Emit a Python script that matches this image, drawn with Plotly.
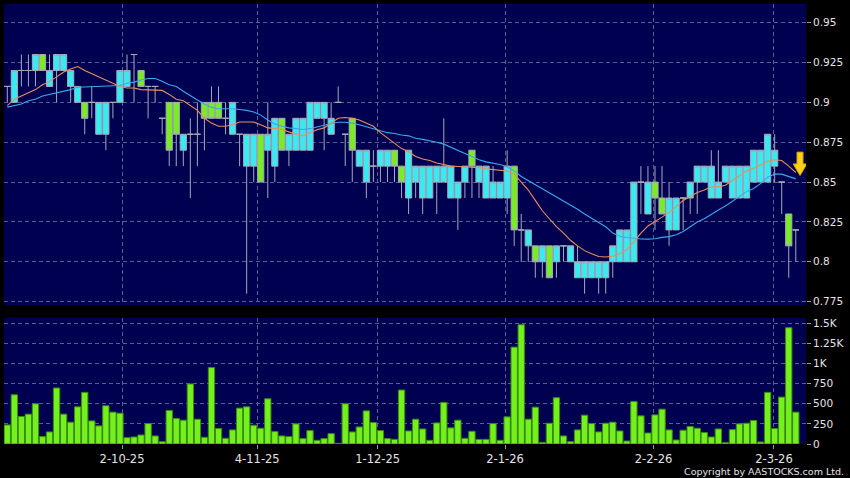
import plotly.graph_objects as go

# ---------------- data ----------------
idx = list(range(1, 114))

opens = [0.91, 0.90, 0.92, 0.92, 0.92, 0.93, 0.91, 0.92, 0.92, 0.91,
         0.90, 0.90, 0.90, 0.88, 0.88, 0.90, 0.90, 0.91, 0.93, 0.92,
         0.91, 0.91, 0.89, 0.90, 0.90, 0.87, 0.88, 0.88, 0.90, 0.90,
         0.90, 0.89, 0.88, 0.88, 0.86, 0.86, 0.88, 0.87, 0.86, 0.89,
         0.87, 0.87, 0.87, 0.87, 0.89, 0.89, 0.88, 0.90, 0.88, 0.89,
         0.86, 0.85, 0.86, 0.86, 0.86, 0.87, 0.86, 0.84, 0.85, 0.84,
         0.84, 0.85, 0.85, 0.84, 0.84, 0.85, 0.87, 0.85, 0.84, 0.84,
         0.84, 0.84, 0.86, 0.82, 0.81, 0.81, 0.80, 0.81, 0.80, 0.81,
         0.80, 0.79, 0.79, 0.79, 0.79, 0.79, 0.80, 0.80, 0.80, 0.80,
         0.85, 0.83, 0.85, 0.84, 0.82, 0.82, 0.84, 0.84, 0.85, 0.85,
         0.84, 0.84, 0.85, 0.84, 0.84, 0.84, 0.85, 0.85, 0.85, 0.86,
         0.85, 0.83, 0.82]
highs = [0.91, 0.92, 0.93, 0.93, 0.93, 0.93, 0.93, 0.93, 0.93, 0.92,
         0.91, 0.90, 0.91, 0.90, 0.90, 0.90, 0.92, 0.93, 0.93, 0.92,
         0.91, 0.91, 0.89, 0.90, 0.90, 0.88, 0.89, 0.90, 0.90, 0.91,
         0.91, 0.90, 0.90, 0.88, 0.88, 0.88, 0.88, 0.90, 0.89, 0.89,
         0.88, 0.89, 0.89, 0.90, 0.90, 0.90, 0.90, 0.91, 0.88, 0.89,
         0.87, 0.87, 0.87, 0.87, 0.87, 0.87, 0.86, 0.87, 0.86, 0.86,
         0.86, 0.86, 0.89, 0.86, 0.85, 0.86, 0.87, 0.86, 0.86, 0.86,
         0.85, 0.87, 0.86, 0.83, 0.82, 0.81, 0.81, 0.81, 0.81, 0.81,
         0.81, 0.81, 0.80, 0.80, 0.80, 0.80, 0.81, 0.82, 0.82, 0.85,
         0.86, 0.86, 0.86, 0.86, 0.85, 0.84, 0.84, 0.85, 0.86, 0.86,
         0.87, 0.87, 0.86, 0.86, 0.86, 0.86, 0.87, 0.87, 0.88, 0.88,
         0.85, 0.83, 0.82]
lows = [0.90, 0.90, 0.91, 0.91, 0.91, 0.92, 0.91, 0.90, 0.92, 0.90,
        0.90, 0.88, 0.89, 0.88, 0.87, 0.89, 0.90, 0.91, 0.90, 0.91,
        0.89, 0.90, 0.88, 0.86, 0.86, 0.86, 0.84, 0.86, 0.87, 0.89,
        0.89, 0.88, 0.88, 0.86, 0.78, 0.85, 0.85, 0.84, 0.85, 0.87,
        0.86, 0.87, 0.87, 0.87, 0.89, 0.87, 0.88, 0.90, 0.86, 0.85,
        0.86, 0.84, 0.85, 0.85, 0.85, 0.85, 0.84, 0.83, 0.84, 0.83,
        0.84, 0.83, 0.85, 0.84, 0.82, 0.84, 0.84, 0.84, 0.84, 0.84,
        0.84, 0.83, 0.81, 0.80, 0.80, 0.79, 0.79, 0.79, 0.79, 0.80,
        0.80, 0.79, 0.78, 0.79, 0.78, 0.78, 0.79, 0.80, 0.80, 0.80,
        0.83, 0.83, 0.82, 0.83, 0.81, 0.82, 0.82, 0.83, 0.83, 0.85,
        0.84, 0.84, 0.85, 0.84, 0.84, 0.84, 0.85, 0.85, 0.85, 0.85,
        0.83, 0.79, 0.80]
closes = [0.91, 0.92, 0.92, 0.92, 0.93, 0.92, 0.92, 0.93, 0.93, 0.92,
          0.91, 0.89, 0.90, 0.90, 0.90, 0.90, 0.92, 0.92, 0.93, 0.91,
          0.91, 0.91, 0.89, 0.87, 0.88, 0.88, 0.88, 0.88, 0.89, 0.89,
          0.89, 0.89, 0.90, 0.88, 0.88, 0.88, 0.85, 0.88, 0.89, 0.87,
          0.88, 0.89, 0.89, 0.90, 0.90, 0.90, 0.89, 0.90, 0.88, 0.87,
          0.87, 0.87, 0.86, 0.87, 0.87, 0.86, 0.85, 0.87, 0.86, 0.86,
          0.86, 0.86, 0.86, 0.86, 0.85, 0.86, 0.86, 0.86, 0.86, 0.85,
          0.85, 0.86, 0.82, 0.82, 0.82, 0.80, 0.81, 0.79, 0.81, 0.81,
          0.81, 0.80, 0.80, 0.80, 0.80, 0.80, 0.81, 0.82, 0.82, 0.85,
          0.85, 0.85, 0.84, 0.83, 0.84, 0.84, 0.84, 0.85, 0.86, 0.86,
          0.86, 0.85, 0.86, 0.86, 0.86, 0.86, 0.87, 0.87, 0.88, 0.87,
          0.85, 0.81, 0.82]
volume = [237, 612, 342, 371, 500, 92, 150, 696, 371, 271,
          462, 642, 287, 225, 475, 396, 383, 79, 87, 112,
          254, 100, 29, 417, 317, 296, 746, 308, 83, 950,
          192, 71, 175, 446, 462, 233, 196, 562, 154, 100,
          92, 250, 67, 167, 46, 67, 129, 8, 500, 150,
          212, 412, 267, 167, 67, 58, 671, 162, 308, 187,
          46, 262, 517, 200, 296, 71, 158, 58, 58, 254,
          46, 337, 1204, 1483, 308, 458, 21, 258, 575, 100,
          29, 175, 358, 254, 150, 258, 271, 162, 37, 529,
          350, 137, 362, 433, 175, 50, 171, 217, 196, 142,
          87, 187, 17, 179, 250, 258, 292, 25, 642, 192,
          583, 1446, 396]
ma_short = [0.898, 0.902, 0.904, 0.906, 0.908, 0.911, 0.913, 0.916, 0.919, 0.921,
            0.9225, 0.920, 0.918, 0.916, 0.914, 0.912, 0.910, 0.909, 0.909, 0.908,
            0.9078, 0.9075, 0.9075, 0.905, 0.902, 0.901, 0.898, 0.895, 0.890, 0.887,
            0.885, 0.885, 0.886, 0.8877, 0.8877, 0.8877, 0.886, 0.884, 0.8837, 0.883,
            0.8815, 0.880, 0.879, 0.881, 0.8828, 0.884, 0.887, 0.890, 0.8905, 0.890,
            0.889, 0.887, 0.885, 0.881, 0.8775, 0.874, 0.871, 0.869, 0.866, 0.8645,
            0.8635, 0.862, 0.861, 0.860, 0.8598, 0.8596, 0.8596, 0.859, 0.8583, 0.858,
            0.8575, 0.857, 0.855, 0.850, 0.845, 0.8385, 0.832, 0.827, 0.822, 0.818,
            0.8135, 0.810, 0.807, 0.805, 0.8033, 0.803, 0.8035, 0.805, 0.8075, 0.8125,
            0.818, 0.8225, 0.825, 0.828, 0.831, 0.835, 0.8385, 0.841, 0.8435, 0.845,
            0.847, 0.847, 0.848, 0.851, 0.854, 0.857, 0.8585, 0.861, 0.863, 0.864,
            0.8635, 0.860, 0.856]
ma_long = [0.897, 0.898, 0.899, 0.901, 0.902, 0.904, 0.905, 0.906, 0.907, 0.908,
           0.9095, 0.9097, 0.910, 0.910, 0.9103, 0.9106, 0.9106, 0.912, 0.9127, 0.914,
           0.915, 0.915, 0.9133, 0.911, 0.910, 0.907, 0.904, 0.9015, 0.899, 0.897,
           0.896, 0.896, 0.896, 0.8955, 0.895, 0.894, 0.892, 0.889, 0.8865, 0.885,
           0.884, 0.8835, 0.883, 0.8835, 0.8848, 0.8857, 0.8867, 0.8875, 0.8875, 0.887,
           0.886, 0.8847, 0.8835, 0.882, 0.881, 0.8805, 0.8795, 0.879, 0.8775, 0.8768,
           0.876, 0.875, 0.8738, 0.872, 0.870, 0.868, 0.866, 0.864, 0.8627, 0.862,
           0.861, 0.8595, 0.857, 0.8535, 0.851, 0.848, 0.846, 0.8435, 0.841, 0.8385,
           0.836, 0.833, 0.830, 0.8275, 0.825, 0.822, 0.818, 0.816, 0.8152, 0.8147,
           0.8143, 0.8142, 0.8145, 0.8153, 0.8158, 0.817, 0.819, 0.822, 0.825, 0.827,
           0.830, 0.8325, 0.835, 0.838, 0.841, 0.844, 0.846, 0.849, 0.853, 0.855,
           0.855, 0.8535, 0.852]

date_tick_pos = [17.3, 36.5, 53.6, 71.7, 92.8, 109.9]
date_tick_text = ["2-10-25", "4-11-25", "1-12-25", "2-1-26", "2-2-26", "2-3-26"]
price_ticks = [0.775, 0.8, 0.825, 0.85, 0.875, 0.9, 0.925, 0.95]
price_tick_text = ["0.775", "0.8", "0.825", "0.85", "0.875", "0.9", "0.925", "0.95"]
vol_ticks = [0, 250, 500, 750, 1000, 1250, 1500]
vol_tick_text = ["0", "250", "500", "750", "1K", "1.25K", "1.5K"]

# ---------------- styling ----------------
NAVY = "#000050"
CYAN = "#38EAF2"
GREEN = "#78EE22"
WICK = "#A8A8B8"
GRID = "#5C5C92"
TXT = "#E4E4E4"
FONT = "DejaVu Sans"
DASH = "4px,3px"

XR = [0.531, 114.45]

fig = go.Figure()

fig.add_trace(go.Candlestick(
    x=idx, open=opens, high=highs, low=lows, close=closes,
    increasing=dict(line=dict(color=WICK, width=1), fillcolor=CYAN),
    decreasing=dict(line=dict(color=WICK, width=1), fillcolor=GREEN),
    whiskerwidth=0, xaxis="x", yaxis="y", showlegend=False, hoverinfo="skip"))

fig.add_trace(go.Scatter(x=idx, y=ma_long, mode="lines",
                         line=dict(color="#3DA6F0", width=1.1),
                         xaxis="x", yaxis="y", showlegend=False, hoverinfo="skip"))
fig.add_trace(go.Scatter(x=idx, y=ma_short, mode="lines",
                         line=dict(color="#E98F5C", width=1.1),
                         xaxis="x", yaxis="y", showlegend=False, hoverinfo="skip"))

fig.add_trace(go.Bar(x=idx, y=volume, xaxis="x2", yaxis="y2",
                     marker=dict(color="#74F01C", line=dict(color="#3A8A12", width=1)),
                     showlegend=False, hoverinfo="skip"))

# yellow down arrow marker at the latest bar
ax = idx[-1] + 0.6
fig.add_shape(type="path", xref="x", yref="y",
              path=(f"M {ax-0.43} 0.8688 L {ax+0.43} 0.8688 L {ax+0.43} 0.8614 "
                    f"L {ax+0.98} 0.8614 L {ax} 0.8541 L {ax-0.98} 0.8614 "
                    f"L {ax-0.43} 0.8614 Z"),
              fillcolor="#FFD21A", line=dict(color="#D99A00", width=1))

axis_common = dict(showline=False, zeroline=False, gridcolor=GRID, griddash=DASH,
                   gridwidth=1, tickfont=dict(family=FONT, size=10.5, color=TXT))

fig.update_layout(
    width=850, height=478,
    margin=dict(l=4, r=44, t=4, b=34),
    paper_bgcolor="black", plot_bgcolor=NAVY,
    boxgap=0.12, boxgroupgap=0, bargap=0.1,
    font=dict(family=FONT, color=TXT),
    xaxis=dict(domain=[0, 1], anchor="y", range=XR, tickvals=date_tick_pos,
               showticklabels=False, ticks="", showgrid=True,
               rangeslider=dict(visible=False),
               **{k: v for k, v in axis_common.items() if k != "tickfont"}),
    yaxis=dict(domain=[0.3159, 1], anchor="x", range=[0.7729, 0.9617], side="right",
               tickvals=price_ticks, ticktext=price_tick_text, ticks="outside",
               ticklen=4, tickcolor="#9A9AA8", showgrid=True, **axis_common),
    xaxis2=dict(domain=[0, 1], anchor="y2", range=XR, tickvals=date_tick_pos,
                ticktext=date_tick_text, ticks="outside", ticklen=4, tickcolor="#9A9AA8",
                showgrid=True, showline=False, zeroline=False, gridcolor=GRID,
                griddash=DASH, tickfont=dict(family=FONT, size=11.5, color=TXT)),
    yaxis2=dict(domain=[0, 0.2864], anchor="x2", range=[0, 1566], side="right",
                tickvals=vol_ticks, ticktext=vol_tick_text, ticks="outside",
                ticklen=4, tickcolor="#9A9AA8", showgrid=True, **axis_common),
    annotations=[dict(text="Copyright by AASTOCKS.com Ltd.", xref="paper", yref="paper",
                      x=1.0499, y=-0.062, xanchor="right", yanchor="middle", showarrow=False,
                      font=dict(family=FONT, size=9.5, color=TXT))],
)

fig.write_html("out.html", config={"displayModeBar": False},
               post_script="document.body.style.margin='0';document.body.style.overflow='hidden';")
